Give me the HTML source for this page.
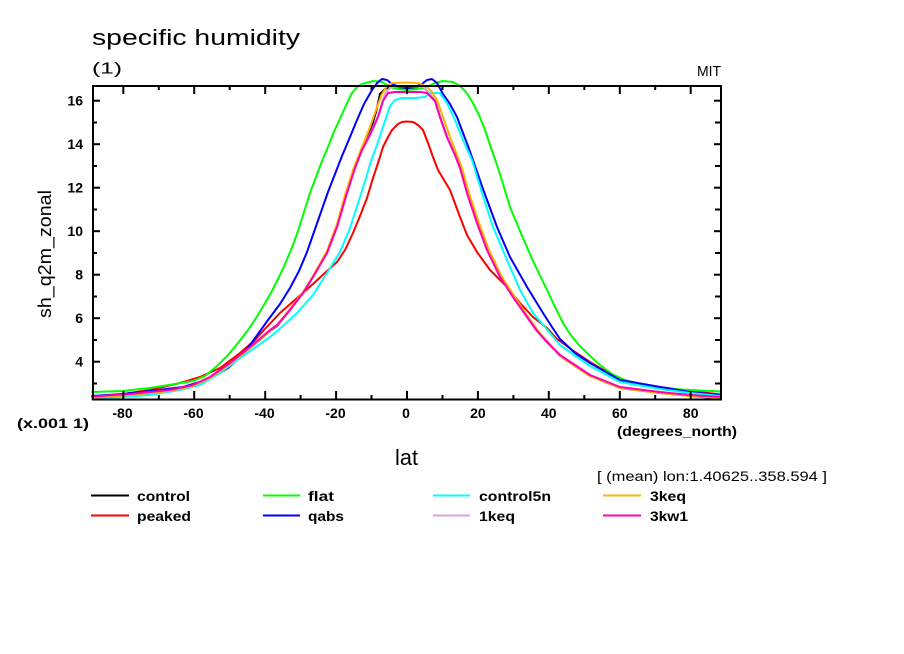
<!DOCTYPE html>
<html>
<head>
<meta charset="utf-8">
<style>
html,body{margin:0;padding:0;background:#fff;}
body{width:904px;height:654px;overflow:hidden;}
svg{display:block;}
.t{font-family:"Liberation Sans",sans-serif;fill:#000;}
.b{font-weight:bold;}
</style>
</head>
<body>
<svg width="904" height="654" viewBox="0 0 904 654" xmlns="http://www.w3.org/2000/svg">
<rect x="0" y="0" width="904" height="654" fill="#fff"/>

<text class="t" x="92" y="45" font-size="22" textLength="208" lengthAdjust="spacingAndGlyphs">specific humidity</text>
<text class="t" x="92" y="73.5" font-size="16" textLength="30" lengthAdjust="spacingAndGlyphs">(1)</text>
<text class="t" x="697" y="76" font-size="15" textLength="24" lengthAdjust="spacingAndGlyphs">MIT</text>

<g fill="none" stroke-width="2" stroke-linejoin="round" stroke-linecap="round">
<polyline stroke="#000000" points="92,398.5 130,395.5 170,391 193,386 210,378 230,364 250,348 262,338 270,331 277,326 290,310 303,293 313,277 327,252 337,226 346,194 354,169 362,149 370,132 376,112 380,94 385,89 390,87 407,88.5 424,88 429,93 435,101 440,117 447,137 455,155 461,168 468,193 478,223 488,250 501,277 514,297 528,317 538,331 546,340 560,356 590,376 620,388 660,393 690,396 721,398.5"/>
<polyline stroke="#ff0000" points="92,396.5 123,394 150,390 180,383 200,377 220,368 240,353 255,340 263,331 280,313 297,298 313,284 327,271 337,262 345,250 353,233 360,216 367,198 373,178 379,160 383,147 388,137 392,130 398,124 402,122 407,121.5 413,122 418,125 423,130 428,143 433,157 438,170 444,180 450,190 460,217 467,235 477,252 490,270 507,287 520,303 533,317 547,328 557,339 575,352 590,362 620,380 660,387 690,391 721,394.5"/>
<polyline stroke="#00ff00" points="92,392 123,391 150,388 175,384 193,381 205,376 217,366 228,355 238,343 248,330 256,318 264,305 272,291 279,277 285,264 291,250 297,234 304,212 310,193 316,177 322,161 328,147 333,134 338,123 343,112 348,101 352,93 357,87 362,84 373,81 382,82 390,87 398,89 407,90 417,89 427,87 435,83 443,81 453,82 460,86 466,92 473,103 479,115 485,130 490,145 497,165 503,184 510,207 520,231 533,261 547,290 556,309 563,323 570,334 578,344 588,354 600,365 612,374 625,380 640,384 660,388 690,390 721,391.5"/>
<polyline stroke="#0000ff" points="92,396 123,394 150,391 183,387 200,382 213,377 228,368 240,357 250,345 258,334 268,320 280,304 290,288 299,271 307,252 314,232 321,212 328,192 335,174 342,156 350,137 357,120 364,104 372,90 378,82 382,79 387,80 392,84 400,87 407,88 415,87 422,84 427,80 432,79 437,83 443,94 450,104 457,117 463,133 468,146 474,163 483,189 497,227 510,257 527,287 543,313 552,327 560,339 575,353 590,363 620,380 660,387 690,392 721,395"/>
<polyline stroke="#00ffff" points="92,399 110,398 150,395 180,390 200,385 220,373 240,358 256,347 270,337 283,326 297,313 313,295 327,273 340,252 350,228 360,197 366,178 371,161 377,145 383,127 390,106 395,100 402,98 415,98 425,97 430,93 440,93 447,103 455,120 463,140 472,160 482,193 493,227 507,260 520,290 533,313 550,333 560,345 590,366 620,382 660,389 690,393 721,396"/>
<polyline stroke="#dda0dd" points="92,397.5 130,394.5 170,390.5 193,385.5 210,377.5 230,363.5 250,347.5 262,337.5 270,330.5 277,325.5 290,310 303,293 313,277 327,253 337,227 347,193 355,168 362,150 370,134 378,116 383,100 386,92 391,87 407,86 423,87 428,92 435,101 440,117 447,137 455,155 460,168 467,193 477,223 487,250 500,277 513,297 527,317 537,331 545,340 560,355.5 590,375.5 620,387.5 660,392.5 690,395.5 721,397.5"/>
<polyline stroke="#ffb400" points="92,398 130,395 170,391 193,386 210,378 230,364 250,348 262,338 270,331 277,325 290,309 303,292 313,276 327,251 337,224 345,195 353,170 362,147 370,127 377,107 382,94 387,86 392,83 407,82.5 418,83 423,85 428,88 432,92 437,100 443,117 450,137 457,155 462,168 469,193 479,223 489,250 502,277 515,297 528,317 538,331 546,340 560,356 590,376 620,388 660,393 690,396 721,398"/>
<polyline stroke="#ff00b4" points="92,396.5 130,394 170,390 193,385 210,377 230,363 250,347 262,337 270,330 277,325 290,310 303,293 313,277 327,253 337,227 347,193 355,168 362,150 370,135 378,117 383,101 388,93 395,92 407,92 420,92 427,93 435,101 440,117 447,137 455,155 460,168 467,193 477,223 487,250 500,277 513,297 527,317 537,331 545,340 560,355 590,375 620,387 660,392 690,395 721,397"/>
</g>

<rect x="93" y="86" width="628" height="313.5" fill="none" stroke="#000" stroke-width="2"/>

<g stroke="#000" stroke-width="2">
<line x1="123.3" y1="399" x2="123.3" y2="391"/><line x1="123.3" y1="86" x2="123.3" y2="94"/>
<line x1="158.8" y1="399" x2="158.8" y2="395"/><line x1="158.8" y1="86" x2="158.8" y2="90"/>
<line x1="194.2" y1="399" x2="194.2" y2="391"/><line x1="194.2" y1="86" x2="194.2" y2="94"/>
<line x1="229.7" y1="399" x2="229.7" y2="395"/><line x1="229.7" y1="86" x2="229.7" y2="90"/>
<line x1="265.2" y1="399" x2="265.2" y2="391"/><line x1="265.2" y1="86" x2="265.2" y2="94"/>
<line x1="300.6" y1="399" x2="300.6" y2="395"/><line x1="300.6" y1="86" x2="300.6" y2="90"/>
<line x1="336.1" y1="399" x2="336.1" y2="391"/><line x1="336.1" y1="86" x2="336.1" y2="94"/>
<line x1="371.5" y1="399" x2="371.5" y2="395"/><line x1="371.5" y1="86" x2="371.5" y2="90"/>
<line x1="407" y1="399" x2="407" y2="391"/><line x1="407" y1="86" x2="407" y2="94"/>
<line x1="442.5" y1="399" x2="442.5" y2="395"/><line x1="442.5" y1="86" x2="442.5" y2="90"/>
<line x1="477.9" y1="399" x2="477.9" y2="391"/><line x1="477.9" y1="86" x2="477.9" y2="94"/>
<line x1="513.4" y1="399" x2="513.4" y2="395"/><line x1="513.4" y1="86" x2="513.4" y2="90"/>
<line x1="548.8" y1="399" x2="548.8" y2="391"/><line x1="548.8" y1="86" x2="548.8" y2="94"/>
<line x1="584.3" y1="399" x2="584.3" y2="395"/><line x1="584.3" y1="86" x2="584.3" y2="90"/>
<line x1="619.8" y1="399" x2="619.8" y2="391"/><line x1="619.8" y1="86" x2="619.8" y2="94"/>
<line x1="655.2" y1="399" x2="655.2" y2="395"/><line x1="655.2" y1="86" x2="655.2" y2="90"/>
<line x1="690.7" y1="399" x2="690.7" y2="391"/><line x1="690.7" y1="86" x2="690.7" y2="94"/>
<line x1="93" y1="100.7" x2="100" y2="100.7"/><line x1="721" y1="100.7" x2="714" y2="100.7"/>
<line x1="93" y1="122.5" x2="97" y2="122.5"/><line x1="721" y1="122.5" x2="715" y2="122.5"/>
<line x1="93" y1="144.2" x2="100" y2="144.2"/><line x1="721" y1="144.2" x2="714" y2="144.2"/>
<line x1="93" y1="166" x2="97" y2="166"/><line x1="721" y1="166" x2="715" y2="166"/>
<line x1="93" y1="187.7" x2="100" y2="187.7"/><line x1="721" y1="187.7" x2="714" y2="187.7"/>
<line x1="93" y1="209.5" x2="97" y2="209.5"/><line x1="721" y1="209.5" x2="715" y2="209.5"/>
<line x1="93" y1="231.2" x2="100" y2="231.2"/><line x1="721" y1="231.2" x2="714" y2="231.2"/>
<line x1="93" y1="253" x2="97" y2="253"/><line x1="721" y1="253" x2="715" y2="253"/>
<line x1="93" y1="274.7" x2="100" y2="274.7"/><line x1="721" y1="274.7" x2="714" y2="274.7"/>
<line x1="93" y1="296.5" x2="97" y2="296.5"/><line x1="721" y1="296.5" x2="715" y2="296.5"/>
<line x1="93" y1="318.2" x2="100" y2="318.2"/><line x1="721" y1="318.2" x2="714" y2="318.2"/>
<line x1="93" y1="340" x2="97" y2="340"/><line x1="721" y1="340" x2="715" y2="340"/>
<line x1="93" y1="361.7" x2="100" y2="361.7"/><line x1="721" y1="361.7" x2="714" y2="361.7"/>
<line x1="93" y1="383.5" x2="97" y2="383.5"/><line x1="721" y1="383.5" x2="715" y2="383.5"/>
</g>

<g class="t b" font-size="14" text-anchor="end">
<text x="83" y="105.7">16</text>
<text x="83" y="149.2">14</text>
<text x="83" y="192.7">12</text>
<text x="83" y="236.2">10</text>
<text x="83" y="279.7">8</text>
<text x="83" y="323.2">6</text>
<text x="83" y="366.7">4</text>
</g>

<g class="t b" font-size="14" text-anchor="middle">
<text x="122.5" y="418">-80</text>
<text x="193.5" y="418">-60</text>
<text x="264.5" y="418">-40</text>
<text x="335.5" y="418">-20</text>
<text x="406" y="418">0</text>
<text x="477.9" y="418">20</text>
<text x="548.8" y="418">40</text>
<text x="619.8" y="418">60</text>
<text x="690.7" y="418">80</text>
</g>

<text class="t b" x="17" y="428" font-size="14" textLength="72" lengthAdjust="spacingAndGlyphs">(x.001 1)</text>
<text class="t b" x="617" y="436" font-size="14" textLength="120" lengthAdjust="spacingAndGlyphs">(degrees_north)</text>
<text class="t" x="395" y="465" font-size="22" textLength="23" lengthAdjust="spacingAndGlyphs">lat</text>
<text class="t" x="0" y="0" font-size="18" textLength="128" lengthAdjust="spacingAndGlyphs" transform="translate(51,318) rotate(-90)">sh_q2m_zonal</text>
<text class="t" x="597" y="481" font-size="14" textLength="230" lengthAdjust="spacingAndGlyphs">[ (mean) lon:1.40625..358.594 ]</text>

<g stroke-width="2">
<line x1="91" y1="495.5" x2="129" y2="495.5" stroke="#000000"/>
<line x1="91" y1="515.5" x2="129" y2="515.5" stroke="#ff0000"/>
<line x1="263" y1="495.5" x2="300" y2="495.5" stroke="#00ff00"/>
<line x1="263" y1="515.5" x2="300" y2="515.5" stroke="#0000ff"/>
<line x1="433" y1="495.5" x2="470" y2="495.5" stroke="#00ffff"/>
<line x1="433" y1="515.5" x2="470" y2="515.5" stroke="#dda0dd"/>
<line x1="603" y1="495.5" x2="641" y2="495.5" stroke="#ffb400"/>
<line x1="603" y1="515.5" x2="641" y2="515.5" stroke="#ff00b4"/>
</g>
<g class="t b" font-size="14">
<text x="137" y="501" textLength="53" lengthAdjust="spacingAndGlyphs">control</text>
<text x="137" y="521" textLength="54" lengthAdjust="spacingAndGlyphs">peaked</text>
<text x="308" y="501" textLength="26" lengthAdjust="spacingAndGlyphs">flat</text>
<text x="308" y="521" textLength="36" lengthAdjust="spacingAndGlyphs">qabs</text>
<text x="479" y="501" textLength="72" lengthAdjust="spacingAndGlyphs">control5n</text>
<text x="479" y="521" textLength="36" lengthAdjust="spacingAndGlyphs">1keq</text>
<text x="650" y="501" textLength="36" lengthAdjust="spacingAndGlyphs">3keq</text>
<text x="650" y="521" textLength="38" lengthAdjust="spacingAndGlyphs">3kw1</text>
</g>
</svg>
</body>
</html>
